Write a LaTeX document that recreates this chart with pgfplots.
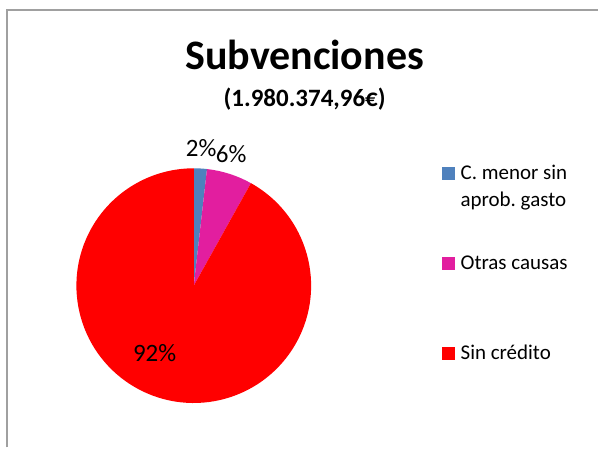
\documentclass[border=0pt]{standalone}
\usepackage{pgfplots}
\pgfplotsset{compat=1.18}
\usepackage{pgfplotstable}
\usepackage{fontspec}
\setmainfont{Carlito}
\frenchspacing
\definecolor{cblue}{HTML}{4F81BD}
\definecolor{cmag}{HTML}{E21E9F}
\definecolor{cred}{HTML}{FF0000}
\definecolor{frame}{HTML}{A0A0A0}
\pgfplotstableread{
value
1.8
6.3
91.9
}\piedata
\pgfplotstablegetelem{0}{value}\of\piedata\let\vA\pgfplotsretval
\pgfplotstablegetelem{1}{value}\of\piedata\let\vB\pgfplotsretval
\pgfplotstablegetelem{2}{value}\of\piedata\let\vC\pgfplotsretval
\pgfmathsetmacro\aA{90}
\pgfmathsetmacro\aB{90-3.6*\vA}
\pgfmathsetmacro\aC{\aB-3.6*\vB}
\pgfmathsetmacro\aD{\aC-3.6*\vC}
\def\R{117.5pt}
\begin{document}
\frenchspacing
\begin{tikzpicture}
\begin{axis}[hide axis, scale only axis, width=599pt, height=448pt,
  xmin=0, xmax=599, ymin=0, ymax=448, y dir=reverse, clip=false]
\path (axis cs:0,0) rectangle (axis cs:599,448);
\draw[frame, line width=1.5pt] (axis cs:7,448) -- (axis cs:7,10) -- (axis cs:599,10);
% pie slices
\fill[cblue] (axis cs:194,286) -- ++(\aA:\R) arc[start angle=\aA, end angle=\aB, radius=\R] -- cycle;
\fill[cmag] (axis cs:194,286) -- ++(\aB:\R) arc[start angle=\aB, end angle=\aC, radius=\R] -- cycle;
\fill[cred] (axis cs:194,286) -- ++(\aC:\R) arc[start angle=\aC, end angle=\aD, radius=\R] -- cycle;
% titles
\node[anchor=base, inner sep=0pt, font=\fontsize{42}{48}\selectfont\bfseries] at (axis cs:305,70) {Subvenciones};
\node[anchor=base, inner sep=0pt, font=\fontsize{25}{30}\selectfont\bfseries] at (axis cs:305,107) {(1.980.374,96€)};
% data labels
\node[anchor=base west, inner sep=0pt, font=\fontsize{25}{30}\selectfont] at (axis cs:186,157) {2\%};
\node[anchor=base west, inner sep=0pt, font=\fontsize{25}{30}\selectfont] at (axis cs:216,163) {6\%};
\node[anchor=base west, inner sep=0pt, font=\fontsize{25}{30}\selectfont] at (axis cs:133,362) {92\%};
% legend
\fill[cblue] (axis cs:443,167) rectangle (axis cs:456,180);
\fill[cmag] (axis cs:443,257) rectangle (axis cs:456,270);
\fill[cred] (axis cs:443,347) rectangle (axis cs:456,360);
\node[anchor=base west, inner sep=0pt, font=\fontsize{21}{26}\selectfont] at (axis cs:461,180) {C.\ menor sin};
\node[anchor=base west, inner sep=0pt, font=\fontsize{21}{26}\selectfont] at (axis cs:461,207) {aprob.\ gasto};
\node[anchor=base west, inner sep=0pt, font=\fontsize{21}{26}\selectfont] at (axis cs:461,270) {Otras causas};
\node[anchor=base west, inner sep=0pt, font=\fontsize{21}{26}\selectfont] at (axis cs:461,360) {Sin crédito};
\end{axis}
\end{tikzpicture}
\end{document}
